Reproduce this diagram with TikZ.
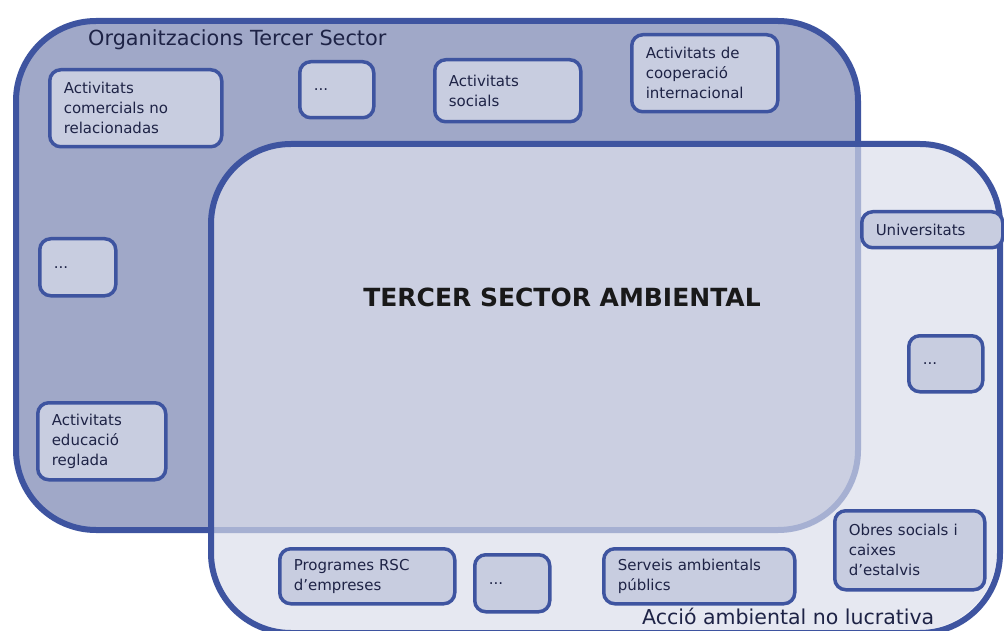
\documentclass[tikz,border=0pt]{standalone}
\usepackage{fontspec}
\setmainfont{DejaVu Sans}
\usepackage{xcolor}
\definecolor{vora}{RGB}{62,84,160}
\definecolor{fonsorg}{RGB}{160,168,200}
\definecolor{fonsamb}{RGB}{230,232,241}
\definecolor{caixafons}{RGB}{200,205,224}
\definecolor{textfosc}{RGB}{30,35,70}

\begin{document}
\begin{tikzpicture}[x=1pt,y=-1pt,
    grup/.style={draw=vora,line width=6pt,rounded corners=80pt,anchor=north west,inner sep=0pt},
    caixa/.style={draw=vora,fill=caixafons,line width=3.5pt,rounded corners=11pt,
      anchor=north west,align=left,inner xsep=14pt,inner ysep=0pt,text=textfosc,
      font=\fontsize{15}{20}\selectfont}]
    \useasboundingbox (0,0) rectangle (1004,631);

    % els dos grans conjunts
    \fill[fonsamb,rounded corners=80pt] (208,141) rectangle (997,630);
    \node[grup,fill=fonsorg,minimum width=842,minimum height=509] (organitzacions) at (13,18) {};
    \node[grup,fill=fonsamb,fill opacity=0.625,minimum width=789,minimum height=489] (accio) at (208,141) {};

    \node[anchor=west,inner sep=0pt,text=textfosc,font=\fontsize{20.8}{24}\selectfont] (titolorg) at (88,40) {Organitzacions Tercer Sector};
    \node[text=black!90,font=\fontsize{25}{30}\bfseries] (tsa) at (562,297) {TERCER SECTOR AMBIENTAL};

    % activitats de les organitzacions
    \node[caixa,text width=144,minimum height=77] (comercials) at (48,68) {Activitats\\comercials no\\relacionadas};
    \node[caixa,text width=46,minimum height=56] (puntsa) at (298,60) {...};
    \node[caixa,text width=118,minimum height=62] (socials) at (433,58) {Activitats\\socials};
    \node[caixa,text width=118,minimum height=77] (cooperacio) at (630,33) {Activitats de\\cooperació\\internacional};
    \node[caixa,text width=48,minimum height=57] (puntsb) at (38,237) {...};
    \node[caixa,text width=100,minimum height=77] (educacio) at (36,401) {Activitats\\educació\\reglada};

    % altres actors ambientals
    \node[caixa,text width=113,minimum height=36] (universitats) at (860,210) {Universitats};
    \node[caixa,text width=46,minimum height=56] (puntsc) at (907,334) {...};
    \node[caixa,text width=147,minimum height=55] (rsc) at (278,547) {Programes RSC\\d’empreses};
    \node[caixa,text width=47,minimum height=57] (puntsd) at (473,553) {...};
    \node[caixa,text width=163,minimum height=55] (serveis) at (602,547) {Serveis ambientals\\públics};
    \node[caixa,text width=122,minimum height=79] (obres) at (833,509) {Obres socials i\\caixes\\d’estalvis};

    \node[anchor=base west,inner sep=0pt,text=textfosc,font=\fontsize{20.5}{24}\selectfont] (titolamb) at (642,624) {Acció ambiental no lucrativa};
\end{tikzpicture}
\end{document}
